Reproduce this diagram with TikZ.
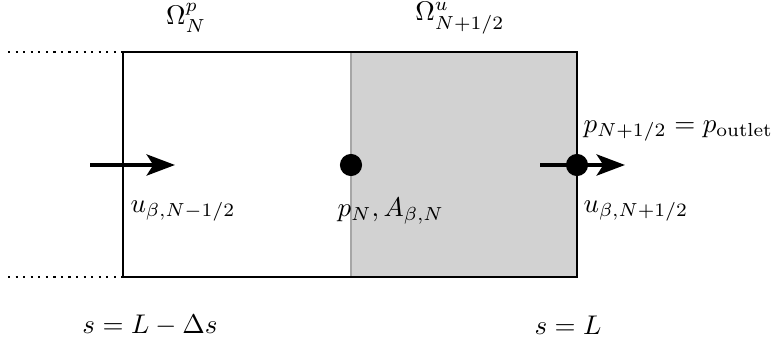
\documentclass[tikz,border=0pt]{standalone}
\usetikzlibrary{arrows.meta}
\begin{document}
\begin{tikzpicture}[x=0.3704pt,y=-0.3704pt,
  border/.style={line width=0.8pt},
  flow/.style={line width=1.6pt,-{Stealth[length=10.5pt,width=7.8pt,inset=2.5pt]}},
  dotline/.style={dotted,line width=0.8pt},
  pt/.style={circle,fill=black,inner sep=0pt,minimum size=8.2pt},
  lbl/.style={inner sep=0pt,anchor=west},
  toplbl/.style={inner sep=0pt}]
\useasboundingbox (0,0) rectangle (774,344);
% geometry
\coordinate (TL) at (123,52);
\coordinate (BR) at (577,277);
\coordinate (TM) at (351,52);
\coordinate (BM) at (351,277);
\coordinate (BL) at (123,277);
\coordinate (dT) at (8,52);
\coordinate (dB) at (8,277);
% shaded cell
\fill[gray!35] (TM) rectangle (BR);
\draw[gray!70,line width=0.6pt] (TM) -- (BM);
% outer box
\draw[border] (TL) rectangle (BR);
\draw[dotline] (dT) -- (TL);
\draw[dotline] (dB) -- (BL);
% arrows
\coordinate (la0) at (90,165);
\coordinate (la1) at (175,165);
\coordinate (ra0) at (540,165);
\coordinate (ra1) at (625,165);
\draw[flow] (la0) -- (la1);
\draw[flow] (ra0) -- (ra1);
% points
\node[pt] (pN) at (351,165) {};
\node[pt] (pO) at (577,165) {};
% labels
\node[toplbl] (om1) at (186,18) {$\Omega^{p}_{N}$};
\node[toplbl] (om2) at (460,18) {$\Omega^{u}_{N+1/2}$};
\node[lbl] (lpo) at (583,131) {$p_{N+1/2}=p_{\mathrm{outlet}}$};
\node[lbl] (luR) at (583,211) {$u_{\beta,N+1/2}$};
\node[lbl] (luL) at (130,211) {$u_{\beta,N-1/2}$};
\node[lbl] (lpN) at (337,211) {$p_N, A_{\beta,N}$};
\node (s1) at (150,325) {$s=L-\Delta s$};
\node (s2) at (568,325) {$s=L$};
\end{tikzpicture}
\end{document}
